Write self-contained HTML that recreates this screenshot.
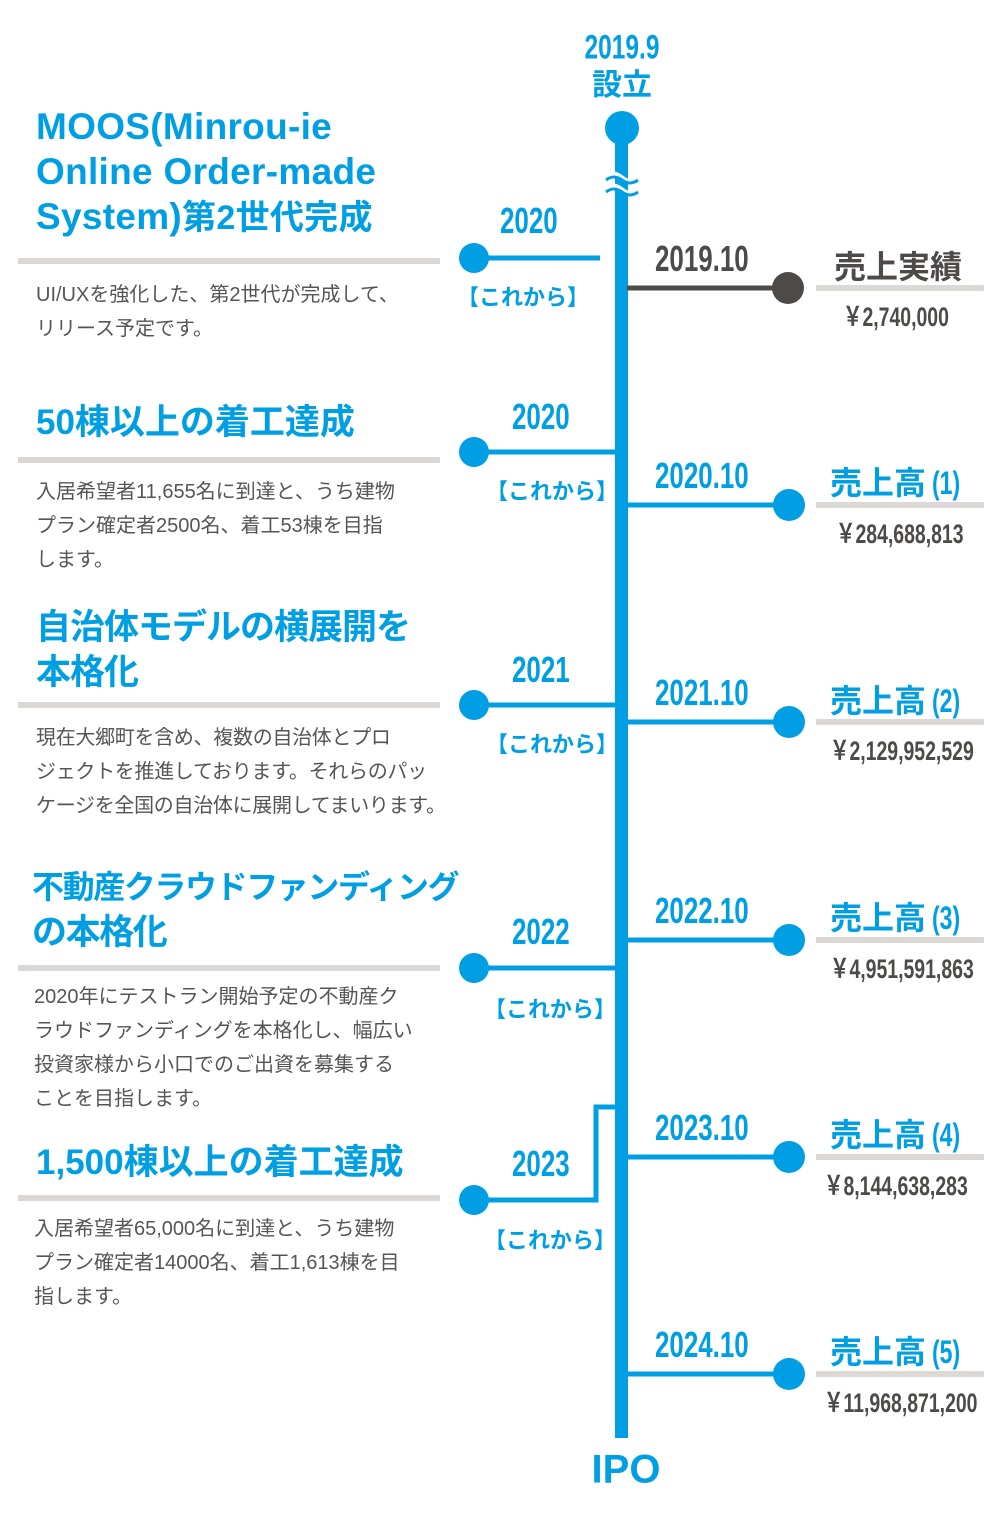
<!DOCTYPE html>
<html><head><meta charset="utf-8"><style>
body{margin:0;width:1000px;height:1518px;background:#fff;position:relative;overflow:hidden;font-family:"Liberation Sans","Noto Sans CJK JP",sans-serif}
.a{position:absolute;white-space:nowrap}
.t{color:#009fe3;font-weight:bold;font-size:35px;line-height:45px;left:36px}
.b{color:#555;font-size:20px;line-height:34px;left:36px}
.sep{position:absolute;left:18px;width:422px;height:6px;background:#dcd8d5}
.rs{position:absolute;left:816px;width:168px;height:6px;background:#dcd8d5}
.n{font-weight:bold;transform:scaleX(0.72);transform-origin:0 50%;display:inline-block}
.c{transform:translate(-50%,-50%)}
.blue{color:#009fe3}.gray{color:#4d4a48}
.p{margin-left:6px}
</style></head><body>
<svg width="1000" height="1518" style="position:absolute;left:0;top:0">
<g fill="#009fe3" stroke="none">
<rect x="615" y="140" width="13" height="1298"/>
<circle cx="622" cy="128" r="17"/>
</g>
<path d="M602 178 q10 -8 20 0 q10 8 20 0 M602 190 q10 -8 20 0 q10 8 20 0" stroke="#fff" stroke-width="5" fill="none"/>
<path d="M606 180 q8 -6 16 0 q8 6 16 0 M606 192 q8 -6 16 0 q8 6 16 0" stroke="#009fe3" stroke-width="3" fill="none"/>
<g stroke="#4d4a48" stroke-width="5"><line x1="627" y1="288" x2="780" y2="288"/></g>
<circle cx="788" cy="288" r="16" fill="#4d4a48"/>
<g stroke="#009fe3" stroke-width="5" fill="none">
<line x1="627" y1="505" x2="780" y2="505"/>
<line x1="627" y1="722" x2="780" y2="722"/>
<line x1="627" y1="940" x2="780" y2="940"/>
<line x1="627" y1="1157" x2="780" y2="1157"/>
<line x1="627" y1="1374" x2="780" y2="1374"/>
<line x1="474" y1="258" x2="600" y2="258"/>
<line x1="474" y1="452" x2="615" y2="452"/>
<line x1="474" y1="705" x2="615" y2="705"/>
<line x1="474" y1="968" x2="615" y2="968"/>
<polyline points="474,1200 596,1200 596,1107 615,1107"/>
</g>
<g fill="#009fe3">
<circle cx="789" cy="505" r="16"/><circle cx="789" cy="722" r="16"/><circle cx="789" cy="940" r="16"/><circle cx="789" cy="1157" r="16"/><circle cx="789" cy="1374" r="16"/>
<circle cx="474" cy="258" r="15"/><circle cx="474" cy="452" r="15"/><circle cx="474" cy="705" r="15"/><circle cx="474" cy="968" r="15"/><circle cx="474" cy="1200" r="15"/>
</g>
</svg>

<div class="a blue c" style="left:622px;top:48px;font-size:34px;font-weight:bold"><span class="n" style="transform-origin:50% 50%">2019.9</span></div>
<div class="a blue c" style="left:622px;top:82px;font-size:30px;font-weight:bold">設立</div>
<div class="a blue c" style="left:626px;top:1470px;font-size:40px;font-weight:bold">IPO</div>

<div class="a t" style="top:104px;font-size:37px;letter-spacing:0.3px">MOOS(Minrou-ie<br>Online Order-made<br>System)<span style="font-size:34px">第2世代完成</span></div>
<div class="sep" style="top:258px"></div>
<div class="a b" style="top:278px">UI/UXを強化した、第2世代が完成して、<br>リリース予定です。</div>

<div class="a t" style="top:400px">50棟以上の着工達成</div>
<div class="sep" style="top:457px"></div>
<div class="a b" style="top:475px">入居希望者11,655名に到達と、うち建物<br>プラン確定者2500名、着工53棟を目指<br>します。</div>

<div class="a t" style="top:605px;letter-spacing:-1px">自治体モデルの横展開を<br>本格化</div>
<div class="sep" style="top:702px"></div>
<div class="a b" style="top:721px;letter-spacing:-0.3px">現在大郷町を含め、複数の自治体とプロ<br>ジェクトを推進しております。それらのパッ<br>ケージを全国の自治体に展開してまいります。</div>

<div class="a t" style="top:865px;left:32px;font-size:32px;letter-spacing:-1.4px">不動産クラウドファンディング<br><span style="font-size:35px">の本格化</span></div>
<div class="sep" style="top:965px"></div>
<div class="a b" style="top:980px;left:34px">2020年にテストラン開始予定の不動産ク<br>ラウドファンディングを本格化し、幅広い<br>投資家様から小口でのご出資を募集する<br>ことを目指します。</div>

<div class="a t" style="top:1140px">1,500棟以上の着工達成</div>
<div class="sep" style="top:1195px"></div>
<div class="a b" style="top:1212px;left:34px">入居希望者65,000名に到達と、うち建物<br>プラン確定者14000名、着工1,613棟を目<br>指します。</div>

<div class="a blue" style="left:500px;top:200px;font-size:36px"><span class="n">2020</span></div>
<div class="a blue" style="left:457px;top:280px;font-size:22px;font-weight:bold">【これから】</div>
<div class="a blue" style="left:512px;top:396px;font-size:36px"><span class="n">2020</span></div>
<div class="a blue" style="left:486px;top:474px;font-size:22px;font-weight:bold">【これから】</div>
<div class="a blue" style="left:512px;top:649px;font-size:36px"><span class="n">2021</span></div>
<div class="a blue" style="left:486px;top:727px;font-size:22px;font-weight:bold">【これから】</div>
<div class="a blue" style="left:512px;top:911px;font-size:36px"><span class="n">2022</span></div>
<div class="a blue" style="left:484px;top:992px;font-size:22px;font-weight:bold">【これから】</div>
<div class="a blue" style="left:512px;top:1143px;font-size:36px"><span class="n">2023</span></div>
<div class="a blue" style="left:484px;top:1223px;font-size:22px;font-weight:bold">【これから】</div>

<div class="a gray" style="left:655px;top:238px;font-size:36px"><span class="n">2019.10</span></div>
<div class="a blue" style="left:655px;top:455px;font-size:36px"><span class="n">2020.10</span></div>
<div class="a blue" style="left:655px;top:672px;font-size:36px"><span class="n">2021.10</span></div>
<div class="a blue" style="left:655px;top:890px;font-size:36px"><span class="n">2022.10</span></div>
<div class="a blue" style="left:655px;top:1107px;font-size:36px"><span class="n">2023.10</span></div>
<div class="a blue" style="left:655px;top:1324px;font-size:36px"><span class="n">2024.10</span></div>

<div class="a gray" style="left:834px;top:242px;font-size:32px;font-weight:bold">売上実績</div>
<div class="rs" style="top:285px"></div>
<div class="a gray" style="left:843px;top:295px;font-size:27px"><span class="n">￥2,740,000</span></div>

<div class="a blue" style="left:830px;top:458px;font-size:32px;font-weight:bold">売上高<span class="n p">(1)</span></div>
<div class="rs" style="top:502px"></div>
<div class="a gray" style="left:836px;top:512px;font-size:27px"><span class="n">￥284,688,813</span></div>

<div class="a blue" style="left:830px;top:676px;font-size:32px;font-weight:bold">売上高<span class="n p">(2)</span></div>
<div class="rs" style="top:719px"></div>
<div class="a gray" style="left:830px;top:729px;font-size:27px"><span class="n">￥2,129,952,529</span></div>

<div class="a blue" style="left:830px;top:893px;font-size:32px;font-weight:bold">売上高<span class="n p">(3)</span></div>
<div class="rs" style="top:937px"></div>
<div class="a gray" style="left:830px;top:947px;font-size:27px"><span class="n">￥4,951,591,863</span></div>

<div class="a blue" style="left:830px;top:1110px;font-size:32px;font-weight:bold">売上高<span class="n p">(4)</span></div>
<div class="rs" style="top:1154px"></div>
<div class="a gray" style="left:824px;top:1164px;font-size:27px"><span class="n">￥8,144,638,283</span></div>

<div class="a blue" style="left:830px;top:1327px;font-size:32px;font-weight:bold">売上高<span class="n p">(5)</span></div>
<div class="rs" style="top:1371px"></div>
<div class="a gray" style="left:824px;top:1381px;font-size:27px"><span class="n">￥11,968,871,200</span></div>
</body></html>
